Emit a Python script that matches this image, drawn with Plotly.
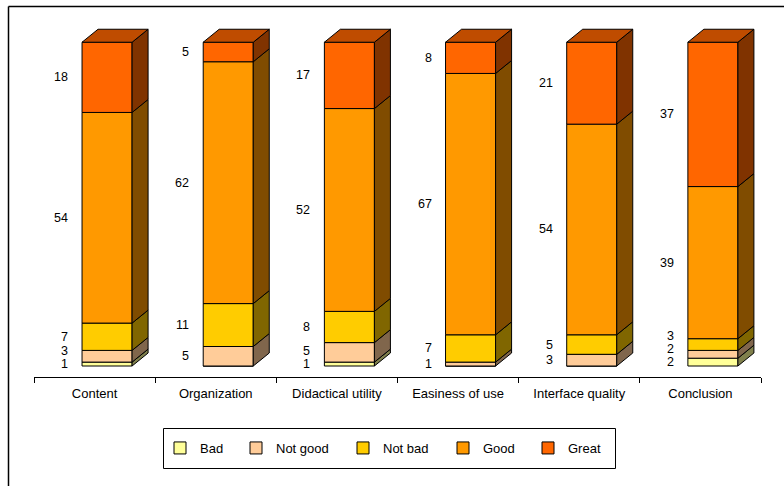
import plotly.graph_objects as go

# ---- data ----
categories = ["Content", "Organization", "Didactical utility", "Easiness of use",
              "Interface quality", "Conclusion"]
series_names = ["Bad", "Not good", "Not bad", "Good", "Great"]
bad = [1, 0, 1, 0, 0, 2]
not_good = [3, 5, 5, 1, 3, 2]
not_bad = [7, 11, 8, 7, 5, 3]
good = [54, 62, 52, 67, 54, 39]
great = [18, 5, 17, 8, 21, 37]

# ---- styles ----
front_colors = ["#FFFF99", "#FFCC99", "#FFCC00", "#FF9900", "#FF6600"]
side_colors = ["#80804C", "#80664C", "#806600", "#804C00", "#803300"]
top_color = "#BF4C00"
legend_marker_px = [184, 260, 367, 467, 552]   # legend entry positions (pixels)

series = [bad, not_good, not_bad, good, great]
n = len(categories)
shift = 0.103      # front face offset within band (x units)
w = 0.413          # front face width (x units)
dx = 0.132         # depth in x units
dy = 3.33          # depth in y units
label_gap = 3.3

L, R, T, B = 34, 23, 20, 109
pw, ph = 784 - L - R, 486 - T - B
def px2paper_x(p):
    return (p - L) / pw
def px2paper_y(p):
    return (486 - B - p) / ph

xpos = [i + shift for i in range(n)]

fig = go.Figure()

bases = [[0] * n]
for s in series[:-1]:
    bases.append([b + v for b, v in zip(bases[-1], s)])

legend_ids = ["legend"] + ["legend%d" % (k + 2) for k in range(len(series) - 1)]

# front faces
for name, s, b, col, lid in zip(series_names, series, bases, front_colors, legend_ids):
    fig.add_trace(go.Bar(
        x=xpos, y=s, base=b, width=w, name=name, legend=lid,
        marker=dict(color=col, line=dict(color="#000000", width=1)),
        hoverinfo="skip",
    ))

# side faces
for s, b, col in zip(series, bases, side_colors):
    xs, ys = [], []
    for i in range(n):
        if s[i] <= 0:
            continue
        xr = xpos[i] + w / 2
        y0, y1 = b[i], b[i] + s[i]
        xs += [xr, xr + dx, xr + dx, xr, xr, None]
        ys += [y0, y0 + dy, y1 + dy, y1, y0, None]
    fig.add_trace(go.Scatter(
        x=xs, y=ys, mode="lines", fill="toself", fillcolor=col,
        line=dict(color="#000000", width=1), showlegend=False, hoverinfo="skip",
    ))

# top faces
xs, ys = [], []
for i in range(n):
    top = bases[-1][i] + series[-1][i]
    xl, xr = xpos[i] - w / 2, xpos[i] + w / 2
    xs += [xl, xl + dx, xr + dx, xr, xl, None]
    ys += [top, top + dy, top + dy, top, top, None]
fig.add_trace(go.Scatter(
    x=xs, y=ys, mode="lines", fill="toself", fillcolor=top_color,
    line=dict(color="#000000", width=1), showlegend=False, hoverinfo="skip",
))

# value labels
annotations = []
for i in range(n):
    prev = None
    for s, b in zip(series, bases):
        if s[i] <= 0:
            continue
        yl = b[i] + s[i] / 2
        if prev is not None and yl < prev + label_gap:
            yl = prev + label_gap
        prev = yl
        annotations.append(dict(
            x=xpos[i] - w / 2, y=yl, xref="x", yref="y", text=str(s[i]),
            showarrow=False, xanchor="right", yanchor="middle", xshift=-12,
            font=dict(size=12.5, color="#000000"),
        ))

# outer frame (left and top border)
fig.add_shape(type="line", xref="paper", yref="paper",
              x0=px2paper_x(8.5), x1=px2paper_x(8.5), y0=px2paper_y(490), y1=px2paper_y(6.5),
              line=dict(color="#000000", width=1.5))
fig.add_shape(type="line", xref="paper", yref="paper",
              x0=px2paper_x(8.5), x1=px2paper_x(790), y0=px2paper_y(6.5), y1=px2paper_y(6.5),
              line=dict(color="#000000", width=1.5))
# legend box
fig.add_shape(type="rect", xref="paper", yref="paper",
              x0=px2paper_x(163.5), x1=px2paper_x(615.5), y0=px2paper_y(428.5), y1=px2paper_y(468.5),
              line=dict(color="#000000", width=1), fillcolor="rgba(0,0,0,0)")

legends = {}
for lid, mx in zip(legend_ids, legend_marker_px):
    legends[lid] = dict(
        orientation="h", x=px2paper_x(mx - 24), xanchor="left",
        y=px2paper_y(448), yanchor="middle",
        borderwidth=0, bgcolor="rgba(0,0,0,0)", font=dict(size=13),
    )

fig.update_layout(
    width=784, height=486,
    margin=dict(l=L, r=R, t=T, b=B),
    paper_bgcolor="#FFFFFF", plot_bgcolor="#FFFFFF",
    barmode="overlay",
    font=dict(family="Liberation Sans, Arial, sans-serif", size=13, color="#000000"),
    annotations=annotations,
    showlegend=True,
    xaxis=dict(
        range=[-0.5, n - 0.5], tickmode="array", tickvals=list(range(n)),
        ticktext=categories, ticks="", showgrid=False, zeroline=False,
        showline=True, linecolor="#000000", linewidth=1, ticklabelstandoff=4,
        tickfont=dict(size=13),
        minor=dict(tickmode="array", tickvals=[i - 0.5 for i in range(n + 1)],
                   ticks="outside", ticklen=5, tickcolor="#000000", showgrid=False),
        fixedrange=True,
    ),
    yaxis=dict(range=[-2.82, 88.7], visible=False, fixedrange=True),
    **legends,
)

fig.write_html("out.html")
